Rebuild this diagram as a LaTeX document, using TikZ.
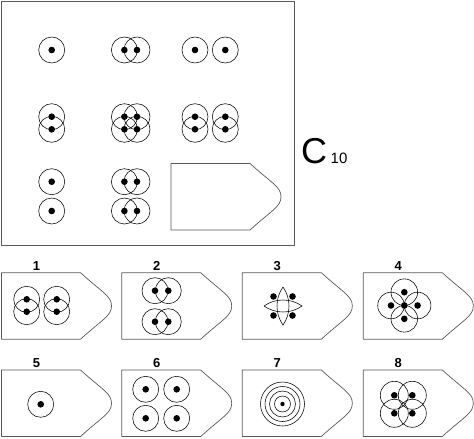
\documentclass[tikz,border=0pt]{standalone}
\usepackage{fontspec}
\setmainfont{Liberation Sans}
\usepackage{tikz}

\begin{document}
\begin{tikzpicture}[x=1pt,y=-1pt,
        ring/.style={line width=0.55pt},
        frame/.style={draw=black!65,line width=0.7pt,line join=round},
        optnum/.style={inner sep=0pt,font=\fontsize{13}{13}\selectfont\bfseries}]
    \useasboundingbox (0,0) rectangle (474,439);
    % the matrix box
    \draw[frame] (1.5,1) rectangle (294.5,245);
    % answer frames: the empty one in the matrix, then options 1-8
    \foreach \l/\t in {171/163.5, 1.5/272.7, 121.7/272.7, 242.3/272.7, 363.3/272.7,
                       1.5/370, 121.7/370, 242.3/370, 363.3/370}
        \draw[frame] (\l+79,\t) -- (\l,\t) -- (\l,\t+66.5) -- (\l+79,\t+66.5)
            .. controls +(22,-20) and +(0,10) .. (\l+110,\t+33.25)
            .. controls +(0,-10) and +(22,20) .. (\l+79,\t);
    % circles with a dot in the centre
    \foreach \x/\y/\r in {51.7/50/13, 124.4/50/13, 137/50/13, 195/50/13, 225.3/50/13,
                          51.7/116.7/13, 51.7/129.3/13,
                          124.4/116.7/13, 137/116.7/13, 124.4/129.3/13, 137/129.3/13,
                          195/116.7/13, 195/129.3/13, 225.3/116.7/13, 225.3/129.3/13,
                          51.7/181.7/13, 51.7/211/13,
                          124.4/181.7/13, 137/181.7/13, 124.4/211/13, 137/211/13,
                          26.7/299.3/13, 26.7/311.7/13, 56.7/299.3/13, 56.7/311.7/13,
                          155/290.7/13, 168.3/290.7/13, 155/321.7/13, 168.3/321.7/13,
                          391/305.5/13.3, 417.6/305.5/13.3, 404.3/292.2/13.3, 404.3/318.8/13.3,
                          40.7/404.3/13,
                          145.7/389.3/13, 176.7/389.3/13, 145.7/418.3/13, 176.7/418.3/13,
                          394.3/395.3/14, 412.3/395.3/14, 394.3/413.3/14, 412.3/413.3/14} {
        \draw[ring] (\x,\y) circle (\r pt);
        \fill (\x,\y) circle (3.3pt);
    }
    \fill (404.3,305.5) circle (3.3pt);
    % option 3
    \begin{scope}[shift={(283,306)}]
        \draw[ring] (0,-19) .. controls (8,-8) and (8,8) .. (0,19) .. controls (-8,8) and (-8,-8) .. (0,-19);
        \draw[ring] (-19,0) .. controls (-8,8) and (8,8) .. (19,0) .. controls (8,-8) and (-8,-8) .. (-19,0);
        \foreach \x/\y in {-9.5/-9.5, 9.5/-9.5, -9.5/9.5, 9.5/9.5}
            \fill (\x,\y) circle (3.3pt);
    \end{scope}
    % option 7
    \foreach \r in {22,17.5,13,8}
        \draw[ring] (282.5,404) circle (\r pt);
    \fill (282.5,404) circle (2.2pt);
    % labels
    \node[anchor=base west,inner sep=0pt,font=\fontsize{36}{36}\selectfont] (cname) at (301,163) {C};
    \node[anchor=base west,inner sep=0pt,font=\fontsize{15}{15}\selectfont] (cidx) at (330.5,163) {10};
    \foreach \n/\x/\y in {1/36.5/266, 2/156.7/266, 3/277.3/266, 4/398.3/266,
                          5/36.5/363, 6/156.7/363, 7/277.3/363, 8/398.3/363}
        \node[optnum] (num\n) at (\x,\y) {\n};
\end{tikzpicture}
\end{document}
